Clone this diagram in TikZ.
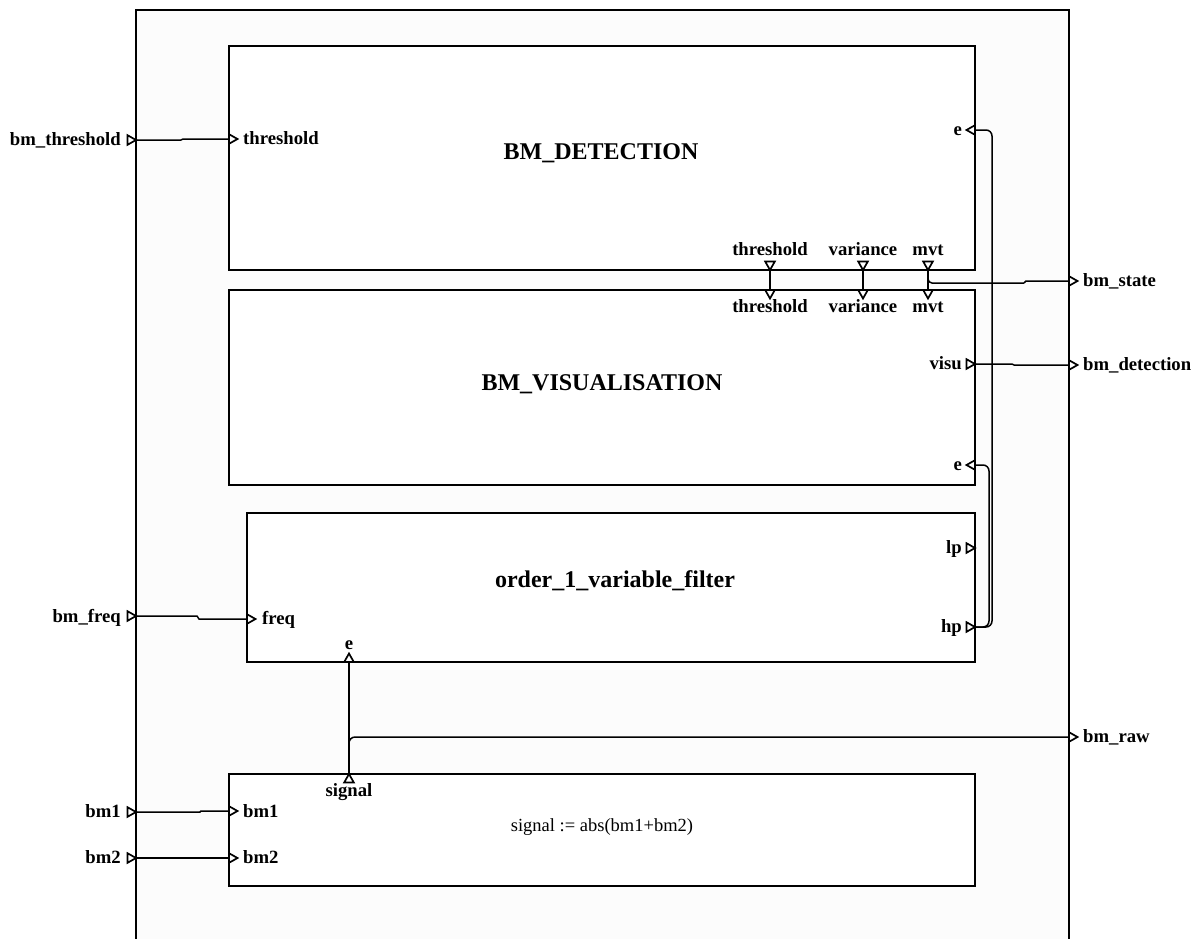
\documentclass[tikz,border=0pt]{standalone}
\usepackage{fontspec}
\setmainfont{Liberation Serif}
\definecolor{outerbg}{RGB}{252,252,252}
\tikzset{
  box/.style={draw=black, line width=2pt, fill=white, inner sep=0pt, outer sep=0pt, anchor=north west},
  wire/.style={draw=black, line width=1.5pt},
  ptri/.style={draw=black, line width=1.7pt, fill=white, line join=miter},
  plab/.style={font=\fontsize{18.7}{20}\selectfont\bfseries, inner sep=0pt},
  title/.style={font=\fontsize{24}{26}\selectfont\bfseries, inner sep=0pt},
  body/.style={font=\fontsize{18.5}{20}\selectfont, inner sep=0pt},
}
% port triangles: right / left / down / up pointing, (#1) = base centre
\newcommand\trR[1]{\draw[ptri] (#1) ++(0,-4.8) -- ++(8.5,4.8) -- ++(-8.5,4.8) -- cycle;}
\newcommand\trL[1]{\draw[ptri] (#1) ++(0,-4.8) -- ++(-8.5,4.8) -- ++(8.5,4.8) -- cycle;}
\newcommand\trD[1]{\draw[ptri] (#1) ++(-4.8,0) -- ++(4.8,8.5) -- ++(4.8,-8.5) -- cycle;}
\newcommand\trU[1]{\draw[ptri] (#1) ++(-4.8,0) -- ++(4.8,-8.5) -- ++(4.8,8.5) -- cycle;}
\begin{document}
\begin{tikzpicture}[x=1pt,y=-1pt]
\useasboundingbox (0,0) rectangle (1194,938);
\clip (0,0) rectangle (1194,938);
\fill[white] (0,0) rectangle (1194,938);
% outer block
\draw[line width=2.2pt, fill=outerbg] (136,10) rectangle (1069,960);

% inner blocks
\node[box, minimum width=746pt, minimum height=224pt] (det) at (229,46) {};
\node[box, minimum width=746pt, minimum height=195pt] (vis) at (229,290) {};
\node[box, minimum width=728pt, minimum height=149pt] (filt) at (247,513) {};
\node[box, minimum width=746pt, minimum height=112pt] (comp) at (229,774) {};

\node[title, anchor=base] (tdet) at (601,159) {BM\_DETECTION};
\node[title, anchor=base] (tvis) at (602,390) {BM\_VISUALISATION};
\node[title, anchor=base] (tfilt) at (615,587) {order\_1\_variable\_filter};
\node[body, anchor=base] (tcomp) at (602,831) {signal := abs(bm1+bm2)};

% port coordinates
\coordinate (oThr) at (136,140);
\coordinate (oFreq) at (136,616);
\coordinate (oBmA) at (136,812);
\coordinate (oBmB) at (136,858);
\coordinate (oState) at (1069,281);
\coordinate (oDet) at (1069,365);
\coordinate (oRaw) at (1069,737);

\coordinate (dThr) at (229,139);
\coordinate (dE) at (975,130);
\coordinate (dThrO) at (770,270);
\coordinate (dVarO) at (863,270);
\coordinate (dMvtO) at (928,270);
\coordinate (vThrI) at (770,290);
\coordinate (vVarI) at (863,290);
\coordinate (vMvtI) at (928,290);
\coordinate (vVisu) at (975,364);
\coordinate (vE) at (975,465);
\coordinate (fLp) at (975,548);
\coordinate (fHp) at (975,627);
\coordinate (fFreq) at (247,619);
\coordinate (fE) at (349,662);
\coordinate (cSig) at (349,774);
\coordinate (cBmA) at (229,811);
\coordinate (cBmB) at (229,858);

% connectors
\draw[wire] (oThr) -- (181,140) -- (183,139) -- (dThr);
\draw[wire] (dThrO) -- (vThrI);
\draw[wire] (dVarO) -- (vVarI);
\draw[wire] (dMvtO) -- (vMvtI);
\draw[wire, rounded corners=4pt] (dMvtO) |- (1024,283);
\draw[wire] (1024,283) -- (1026,281) -- (oState);
\draw[wire] (vVisu) -- (1012,364) -- (1014,365) -- (oDet);
\draw[wire, rounded corners=6pt] (fHp) -- (989,627) -- (989,465) -- (vE);
\draw[wire, rounded corners=6pt] (fHp) -- (992,627) -- (992,130) -- (dE);
\draw[wire] (cSig) -- (fE);
\draw[wire, rounded corners=6pt] (cSig) -- (349,737) -- (oRaw);
\draw[wire] (oFreq) -- (197,616) -- (199,619) -- (fFreq);
\draw[wire] (oBmA) -- (200,812) -- (201,811) -- (cBmA);
\draw[wire] (oBmB) -- (cBmB);

% port triangles
\trR{127.5,140} \trR{127.5,616} \trR{127.5,812} \trR{127.5,858}
\trR{oState} \trR{oDet} \trR{oRaw}
\trR{dThr} \trR{fFreq} \trR{cBmA} \trR{cBmB}
\trL{dE} \trL{vE}
\trR{966.5,364} \trR{966.5,548} \trR{966.5,627}
\trD{770,261.5} \trD{863,261.5} \trD{928,261.5}
\trD{vThrI} \trD{vVarI} \trD{vMvtI}
\trU{fE}
\trU{349,782.5}

% port labels
\node[plab, anchor=base east] (lOThr) at (121,145) {bm\_threshold};
\node[plab, anchor=base east] (lOFreq) at (121,622) {bm\_freq};
\node[plab, anchor=base east] (lOBmA) at (121,817) {bm1};
\node[plab, anchor=base east] (lOBmB) at (121,863) {bm2};
\node[plab, anchor=base west] (lOState) at (1083,286) {bm\_state};
\node[plab, anchor=base west] (lODet) at (1083,370) {bm\_detection};
\node[plab, anchor=base west] (lORaw) at (1083,742) {bm\_raw};

\node[plab, anchor=base west] (lDThr) at (243,144) {threshold};
\node[plab, anchor=base east] (lDE) at (962,135) {e};
\node[plab, anchor=base] (lDThrO) at (770,255) {threshold};
\node[plab, anchor=base] (lDVarO) at (863,255) {variance};
\node[plab, anchor=base] (lDMvtO) at (928,255) {mvt};
\node[plab, anchor=base] (lVThr) at (770,312) {threshold};
\node[plab, anchor=base] (lVVar) at (863,312) {variance};
\node[plab, anchor=base] (lVMvt) at (928,312) {mvt};
\node[plab, anchor=base east] (lVisu) at (962,369) {visu};
\node[plab, anchor=base east] (lVE) at (962,470) {e};
\node[plab, anchor=base east] (lLp) at (962,553) {lp};
\node[plab, anchor=base east] (lHp) at (962,632) {hp};
\node[plab, anchor=base west] (lFreq) at (262,624) {freq};
\node[plab, anchor=base] (lFE) at (349,649) {e};
\node[plab, anchor=base] (lSig) at (349,796) {signal};
\node[plab, anchor=base west] (lBmA) at (243,817) {bm1};
\node[plab, anchor=base west] (lBmB) at (243,863) {bm2};
\end{tikzpicture}
\end{document}
